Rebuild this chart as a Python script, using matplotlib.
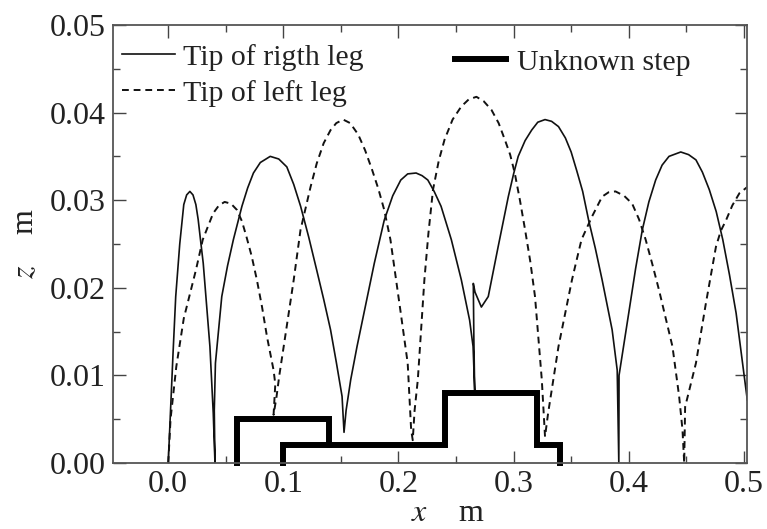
import numpy as np
import matplotlib
matplotlib.use("Agg")
import matplotlib.pyplot as plt
from matplotlib.ticker import MultipleLocator, FormatStrFormatter

plt.rcParams['font.family'] = ['Liberation Serif', 'DejaVu Serif']
plt.rcParams['mathtext.fontset'] = 'stix'

# tip of right leg (solid)
x_right = [0.0, 0.002, 0.0042, 0.0065, 0.010, 0.0135, 0.016, 0.0188, 0.0215, 0.024,
           0.026, 0.028, 0.0304, 0.0362, 0.0391, 0.0406, 0.0400, 0.0410, 0.0465,
           0.0515, 0.0566, 0.064, 0.069, 0.074, 0.080, 0.0886, 0.096, 0.103, 0.109,
           0.115, 0.122, 0.129, 0.135, 0.141, 0.146, 0.151, 0.1527, 0.1545, 0.1585,
           0.164, 0.170, 0.179, 0.1876, 0.195, 0.202, 0.208, 0.2153, 0.2205, 0.2255,
           0.231, 0.237, 0.2459, 0.2546, 0.2618, 0.2648, 0.2662, 0.2655, 0.2650,
           0.2665, 0.272, 0.278, 0.2866, 0.2954, 0.300, 0.304, 0.310, 0.3157, 0.321,
           0.3273, 0.333, 0.339, 0.345, 0.350, 0.355, 0.360, 0.3652, 0.371, 0.3769,
           0.3856, 0.390, 0.3914, 0.3916, 0.400, 0.406, 0.4118, 0.4175, 0.4234, 0.429,
           0.435, 0.4452, 0.452, 0.4584, 0.464, 0.470, 0.476, 0.4817, 0.4875, 0.4933,
           0.503]
z_right = [0.0, 0.006, 0.0126, 0.019, 0.025, 0.0295, 0.0306, 0.031, 0.0306, 0.0295,
           0.0278, 0.0255, 0.0228, 0.0133, 0.0057, 0.0, 0.0060, 0.0114, 0.019,
           0.0225, 0.0255, 0.0293, 0.0314, 0.0331, 0.0343, 0.035, 0.0347, 0.0338, 0.0318,
           0.0293, 0.0258, 0.022, 0.0187, 0.0152, 0.0115, 0.0076, 0.0035, 0.0060, 0.0095,
           0.0133, 0.0171, 0.0228, 0.0277, 0.0305, 0.0323, 0.0330, 0.0331, 0.0328, 0.0323,
           0.0310, 0.0293, 0.0255, 0.0209, 0.0163, 0.0133, 0.0083, 0.0140, 0.0205,
           0.0195, 0.0178, 0.019, 0.0247, 0.0304, 0.0330, 0.035, 0.0368, 0.038, 0.0389,
           0.0392, 0.0390, 0.0384, 0.0371, 0.0355, 0.0333, 0.0310, 0.0277, 0.0245, 0.0209,
           0.0152, 0.0106, 0.0, 0.0100, 0.0171, 0.0222, 0.0266, 0.0298, 0.0323, 0.0340,
           0.035, 0.0355, 0.0352, 0.0346, 0.0332, 0.0312, 0.0287, 0.0255, 0.0215, 0.0171,
           0.0072]

# tip of left leg (dashed)
x_left = [0.0, 0.002, 0.007, 0.0135, 0.024, 0.030, 0.039, 0.044, 0.049, 0.0545,
          0.0596, 0.064, 0.068, 0.0725, 0.077, 0.0815, 0.0858, 0.0915, 0.093, 0.0915,
          0.094, 0.0965, 0.1003, 0.109, 0.1149, 0.1236, 0.129, 0.135, 0.141, 0.146,
          0.152, 0.158, 0.165, 0.171, 0.177, 0.1825, 0.1876, 0.193, 0.1975, 0.202,
          0.208, 0.211, 0.2124, 0.214, 0.2168, 0.2225, 0.226, 0.230, 0.235, 0.240,
          0.247, 0.2546, 0.261, 0.2677, 0.274, 0.2808, 0.287, 0.2924, 0.297, 0.301,
          0.3055, 0.310, 0.3145, 0.3186, 0.3245, 0.3273, 0.330, 0.3345, 0.339, 0.345,
          0.3507, 0.355, 0.359, 0.368, 0.3769, 0.3825, 0.3885, 0.396, 0.403, 0.409,
          0.4147, 0.4205, 0.4264, 0.432, 0.438, 0.4438, 0.4467, 0.4482, 0.449, 0.4584,
          0.467, 0.4758, 0.480, 0.4845, 0.490, 0.4962, 0.503]
z_left = [0.0, 0.005, 0.011, 0.0165, 0.022, 0.0255, 0.0285, 0.0294, 0.0298, 0.0296,
          0.0289, 0.0276, 0.0258, 0.0236, 0.0209, 0.0178, 0.0144, 0.0106, 0.0090, 0.0055,
          0.0075, 0.0100, 0.0133, 0.0209, 0.0266, 0.0315, 0.0342, 0.0365, 0.0380, 0.0388,
          0.0392, 0.0388, 0.0375, 0.0357, 0.0335, 0.0313, 0.0289, 0.0255, 0.0213, 0.0171,
          0.0114, 0.0038, 0.0026, 0.0060, 0.0095, 0.0209, 0.0262, 0.0312, 0.0345, 0.0369,
          0.0392, 0.0407, 0.0415, 0.0418, 0.0413, 0.0403, 0.0388, 0.0369, 0.0352, 0.0331,
          0.0300, 0.0266, 0.0230, 0.019, 0.0095, 0.0030, 0.0057, 0.0095, 0.0133, 0.0172,
          0.0209, 0.0233, 0.0255, 0.0281, 0.0304, 0.0309, 0.031, 0.0305, 0.0296, 0.0278,
          0.0255, 0.0227, 0.0197, 0.0166, 0.0133, 0.0076, 0.0038, 0.0, 0.0064, 0.0114,
          0.0182, 0.0247, 0.0265, 0.0277, 0.0294, 0.0308, 0.0315]

# outline of the unknown step
x_step = [0.06, 0.06, 0.14, 0.14, np.nan, 0.10, 0.10, 0.24, 0.24, 0.32, 0.32, 0.34, 0.34]
z_step = [0.0, 0.005, 0.005, 0.002, np.nan, 0.0, 0.002, 0.002, 0.008, 0.008, 0.002, 0.002, 0.0]

fig = plt.figure(figsize=(7.67, 5.29), dpi=100)
ax = fig.add_axes([0.1473, 0.1248, 0.827, 0.828])

l1, = ax.plot(x_right, z_right, color='#111111', lw=1.2, label='Tip of rigth leg')
l2, = ax.plot(x_left, z_left, color='#111111', lw=1.4, ls=(0, (3.5, 2.5)), label='Tip of left leg')
l3, = ax.plot(x_step, z_step, color='black', lw=4.3, solid_joinstyle='miter',
              solid_capstyle='projecting', clip_on=False, label='Unknown step')

ax.set_xlim(-0.048, 0.503)
ax.set_ylim(0, 0.05)
ax.xaxis.set_major_locator(MultipleLocator(0.1))
ax.xaxis.set_minor_locator(MultipleLocator(0.05))
ax.yaxis.set_major_locator(MultipleLocator(0.01))
ax.yaxis.set_minor_locator(MultipleLocator(0.005))
ax.xaxis.set_major_formatter(FormatStrFormatter('%.1f'))
ax.yaxis.set_major_formatter(FormatStrFormatter('%.2f'))
ax.tick_params(which='both', direction='in', top=True, right=True,
               colors='#444444', labelcolor='#222222', labelsize=23, width=1)
ax.tick_params(which='major', length=9, pad=5)
ax.tick_params(which='minor', length=5)
for s in ax.spines.values():
    s.set_color('#555555')
    s.set_linewidth(1.3)

ax.set_xlabel(r'$x$    m', fontsize=23, color='#222222', labelpad=0)
ax.xaxis.label.set_x(0.527)
ax.set_ylabel(r'$z$    m', fontsize=23, color='#222222', labelpad=7)

leg1 = ax.legend(handles=[l1, l2], loc='upper left', bbox_to_anchor=(0.014, 0.957),
                 frameon=False, fontsize=21.5, handlelength=1.77, handletextpad=0.27,
                 labelspacing=0.3, borderaxespad=0, borderpad=0)
for t in leg1.get_texts():
    t.set_color('#222222')
ax.add_artist(leg1)
leg2 = ax.legend(handles=[l3], loc='upper left', bbox_to_anchor=(0.539, 0.946),
                 frameon=False, fontsize=21.5, handlelength=1.7, handletextpad=0.37,
                 borderaxespad=0, borderpad=0)
for t in leg2.get_texts():
    t.set_color('#222222')

fig.savefig('out.png', dpi=100)
